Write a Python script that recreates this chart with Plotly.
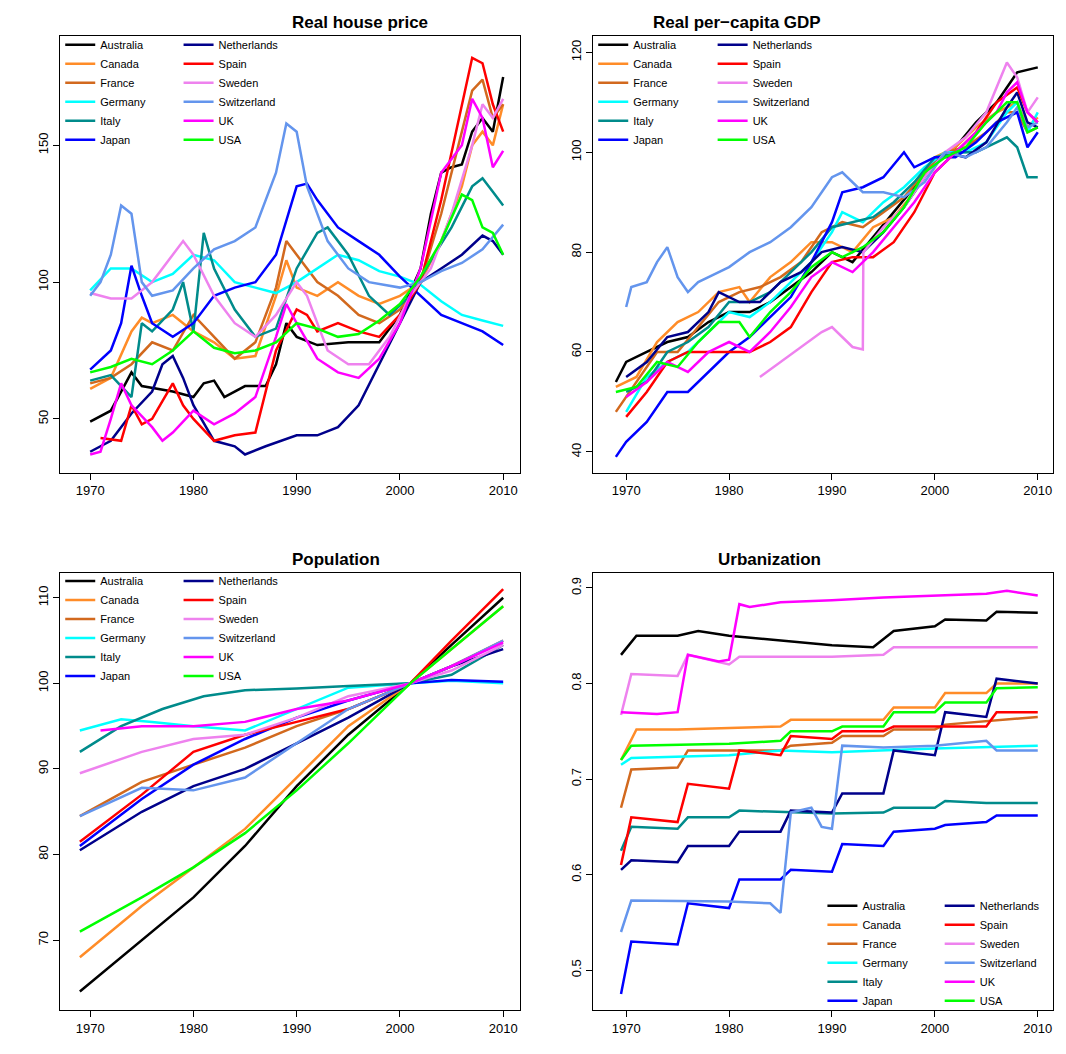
import plotly.graph_objects as go

countries = ["Australia", "Canada", "France", "Germany", "Italy", "Japan",
             "Netherlands", "Spain", "Sweden", "Switzerland", "UK", "USA"]
colors = {"Australia": "#000000", "Canada": "#FF8C28", "France": "#D2691E",
          "Germany": "#00FFFF", "Italy": "#008B8B", "Japan": "#0000FF",
          "Netherlands": "#00008B", "Spain": "#FF0000", "Sweden": "#EE82EE",
          "Switzerland": "#6495ED", "UK": "#FF00FF", "USA": "#00FF00"}

# Real house price
hp_years = {
    "Australia": [1970, 1972, 1973, 1974, 1975, 1978, 1980, 1981, 1982, 1983, 1985, 1987, 1988, 1989, 1990, 1992, 1995, 1998, 2000, 2002, 2003, 2004, 2005, 2006, 2007, 2008, 2009, 2010],
    "Canada": [1970, 1972, 1974, 1975, 1976, 1978, 1980, 1982, 1984, 1986, 1988, 1989, 1990, 1992, 1994, 1996, 1998, 2000, 2002, 2004, 2006, 2007, 2008, 2009, 2010],
    "France": [1970, 1972, 1974, 1976, 1978, 1980, 1982, 1984, 1986, 1988, 1989, 1990, 1992, 1994, 1996, 1998, 2000, 2002, 2004, 2006, 2007, 2008, 2009, 2010],
    "Germany": [1970, 1972, 1974, 1976, 1978, 1980, 1982, 1984, 1986, 1988, 1990, 1992, 1994, 1996, 1998, 2000, 2002, 2004, 2006, 2008, 2010],
    "Italy": [1970, 1972, 1974, 1975, 1976, 1978, 1979, 1980, 1981, 1982, 1984, 1986, 1988, 1990, 1992, 1993, 1995, 1997, 1999, 2001, 2003, 2005, 2007, 2008, 2009, 2010],
    "Japan": [1970, 1972, 1973, 1974, 1975, 1976, 1978, 1980, 1982, 1984, 1986, 1988, 1990, 1991, 1992, 1994, 1996, 1998, 2000, 2002, 2004, 2006, 2008, 2010],
    "Netherlands": [1970, 1972, 1974, 1976, 1977, 1978, 1979, 1980, 1982, 1984, 1985, 1987, 1990, 1992, 1994, 1996, 1998, 2000, 2002, 2004, 2006, 2008, 2009, 2010],
    "Spain": [1971, 1973, 1974, 1975, 1976, 1978, 1979, 1980, 1982, 1984, 1986, 1987, 1988, 1990, 1991, 1992, 1994, 1996, 1998, 2000, 2002, 2004, 2006, 2007, 2008, 2009, 2010],
    "Sweden": [1970, 1972, 1974, 1976, 1978, 1979, 1980, 1982, 1984, 1986, 1988, 1990, 1991, 1993, 1995, 1997, 1999, 2001, 2003, 2005, 2007, 2008, 2009, 2010],
    "Switzerland": [1970, 1971, 1972, 1973, 1974, 1975, 1976, 1978, 1980, 1982, 1984, 1986, 1988, 1989, 1990, 1991, 1993, 1995, 1997, 2000, 2002, 2004, 2006, 2008, 2010],
    "UK": [1970, 1971, 1972, 1973, 1974, 1976, 1977, 1978, 1980, 1982, 1984, 1986, 1988, 1989, 1990, 1992, 1994, 1996, 1998, 2000, 2002, 2004, 2006, 2007, 2008, 2009, 2010],
    "USA": [1970, 1972, 1974, 1976, 1978, 1980, 1982, 1984, 1986, 1988, 1990, 1992, 1994, 1996, 1998, 2000, 2002, 2004, 2006, 2007, 2008, 2009, 2010],
}
hp_vals = {
    "Australia": [49, 53, 60, 67, 62, 60, 58, 63, 64, 58, 62, 62, 70, 85, 80, 77, 78, 78, 88, 105, 125, 140, 142, 143, 155, 160, 155, 175],
    "Canada": [61, 65, 82, 87, 85, 88, 82, 78, 72, 73, 95, 108, 98, 95, 100, 95, 92, 95, 100, 115, 135, 150, 155, 150, 165],
    "France": [63, 65, 70, 78, 75, 88, 80, 72, 78, 98, 115, 110, 100, 95, 88, 85, 90, 100, 125, 155, 170, 174, 160, 165],
    "Germany": [97, 105, 105, 100, 103, 110, 108, 100, 98, 96, 100, 105, 110, 108, 104, 102, 99, 93, 88, 86, 84],
    "Italy": [64, 66, 58, 85, 82, 90, 100, 82, 118, 105, 90, 80, 83, 105, 118, 120, 110, 95, 88, 95, 108, 120, 135, 138, 133, 128],
    "Japan": [68, 75, 85, 106, 95, 85, 80, 85, 95, 98, 100, 110, 135, 136, 130, 120, 115, 110, 102, 95, 88, 85, 82, 77],
    "Netherlands": [38, 42, 52, 60, 70, 73, 65, 55, 42, 40, 37, 40, 44, 44, 47, 55, 70, 85, 100, 105, 110, 117, 115, 110],
    "Spain": [43, 42, 55, 48, 50, 63, 55, 50, 42, 44, 45, 60, 75, 90, 88, 82, 85, 82, 80, 88, 100, 130, 165, 182, 180, 165, 155],
    "Sweden": [96, 94, 94, 100, 110, 115, 110, 95, 85, 80, 88, 100, 95, 75, 70, 70, 80, 95, 105, 125, 150, 165, 160, 167],
    "Switzerland": [95, 100, 110, 128, 125, 100, 95, 97, 105, 112, 115, 120, 140, 158, 155, 135, 115, 105, 100, 98, 100, 104, 107, 112, 121],
    "UK": [37, 38, 50, 63, 55, 47, 42, 45, 53, 48, 52, 58, 80, 92, 85, 72, 67, 65, 72, 85, 105, 140, 150, 167, 160, 142, 148],
    "USA": [67, 69, 72, 70, 75, 82, 76, 74, 75, 78, 85, 83, 80, 81, 86, 92, 102, 115, 132, 130, 120, 118, 110],
}

# Real per-capita GDP
gdp_years = {
    "Australia": [1969, 1970, 1972, 1974, 1976, 1978, 1980, 1982, 1984, 1986, 1988, 1990, 1992, 1994, 1996, 1998, 2000, 2002, 2004, 2006, 2008, 2010],
    "Canada": [1969, 1971, 1973, 1975, 1977, 1979, 1981, 1982, 1984, 1986, 1988, 1990, 1992, 1994, 1996, 1998, 2000, 2002, 2004, 2006, 2008, 2009, 2010],
    "France": [1969, 1971, 1973, 1975, 1977, 1979, 1981, 1983, 1985, 1987, 1989, 1991, 1993, 1995, 1997, 1999, 2001, 2003, 2005, 2007, 2008, 2009, 2010],
    "Germany": [1970, 1972, 1974, 1976, 1978, 1980, 1982, 1984, 1986, 1988, 1990, 1991, 1993, 1995, 1997, 1999, 2001, 2003, 2005, 2007, 2008, 2009, 2010],
    "Italy": [1970, 1972, 1974, 1976, 1978, 1980, 1982, 1984, 1986, 1988, 1990, 1992, 1994, 1996, 1998, 2000, 2002, 2004, 2006, 2007, 2008, 2009, 2010],
    "Japan": [1969, 1970, 1972, 1974, 1976, 1978, 1980, 1982, 1984, 1986, 1988, 1990, 1991, 1993, 1995, 1997, 1998, 2000, 2002, 2004, 2006, 2008, 2009, 2010],
    "Netherlands": [1970, 1972, 1974, 1976, 1978, 1979, 1981, 1983, 1985, 1987, 1989, 1991, 1993, 1995, 1997, 1999, 2001, 2003, 2005, 2007, 2008, 2009, 2010],
    "Spain": [1970, 1972, 1974, 1976, 1978, 1980, 1982, 1984, 1986, 1988, 1990, 1992, 1994, 1996, 1998, 2000, 2002, 2004, 2006, 2008, 2009, 2010],
    "Sweden": [1983, 1985, 1987, 1989, 1990, 1991, 1992, 1993, 1993.05, 1995, 1997, 1999, 2001, 2003, 2005, 2007, 2008, 2009, 2010],
    "Switzerland": [1970, 1970.5, 1972, 1973, 1974, 1975, 1976, 1977, 1978, 1980, 1982, 1984, 1986, 1988, 1990, 1991, 1993, 1995, 1997, 1999, 2001, 2003, 2005, 2007, 2008, 2009, 2010],
    "UK": [1970, 1972, 1974, 1976, 1978, 1980, 1982, 1984, 1986, 1988, 1990, 1992, 1994, 1996, 1998, 2000, 2002, 2004, 2006, 2007, 2008, 2009, 2010],
    "USA": [1969, 1971, 1973, 1975, 1977, 1979, 1981, 1982, 1984, 1986, 1988, 1990, 1991, 1993, 1995, 1997, 1999, 2001, 2003, 2005, 2007, 2008, 2009, 2010],
}
gdp_vals = {
    "Australia": [54, 58, 60, 62, 63, 66, 68, 68, 70, 73, 76, 80, 78, 83, 88, 93, 98, 101, 106, 110, 116, 117],
    "Canada": [53, 55, 62, 66, 68, 72, 73, 70, 75, 78, 82, 82, 80, 85, 87, 92, 99, 101, 105, 108, 110, 105, 107],
    "France": [48, 54, 60, 60, 65, 70, 72, 73, 75, 78, 84, 86, 85, 88, 91, 96, 100, 101, 104, 108, 108, 104, 105],
    "Germany": [48, 55, 58, 60, 64, 68, 67, 70, 74, 78, 84, 88, 86, 90, 93, 97, 100, 100, 102, 108, 110, 104, 108],
    "Italy": [52, 54, 60, 62, 65, 70, 70, 72, 76, 80, 85, 86, 87, 90, 94, 99, 100, 100, 102, 103, 101, 95, 95],
    "Japan": [39, 42, 46, 52, 52, 56, 60, 63, 67, 71, 78, 86, 92, 93, 95, 100, 97, 99, 99, 102, 106, 108, 101, 104],
    "Netherlands": [55, 58, 63, 64, 68, 72, 70, 70, 74, 76, 80, 81, 80, 84, 89, 95, 100, 99, 102, 109, 112, 106, 105],
    "Spain": [47, 52, 58, 60, 60, 60, 60, 62, 65, 72, 78, 79, 79, 82, 88, 96, 100, 104, 110, 113, 108, 106],
    "Sweden": [55, 58, 61, 64, 65, 63, 61, 60.5, 80, 85, 89, 95, 100, 103, 108, 118, 115, 108, 111],
    "Switzerland": [69, 73, 74, 78, 81, 75, 72, 74, 75, 77, 80, 82, 85, 89, 95, 96, 92, 92, 91, 94, 100, 99, 101, 106, 109, 105, 106],
    "UK": [51, 54, 58, 56, 60, 62, 60, 64, 69, 75, 78, 76, 80, 85, 90, 96, 100, 104, 108, 112, 114, 108, 106],
    "USA": [52, 53, 58, 57, 62, 66, 66, 63, 68, 72, 77, 80, 79, 81, 84, 89, 96, 99, 101, 106, 110, 110, 104, 105],
}

# Population (index)
pop_years = {
    "Australia": [1969, 1975, 1980, 1985, 1990, 1995, 2001, 2005, 2010],
    "Canada": [1969, 1975, 1980, 1985, 1990, 1995, 2001, 2005, 2010],
    "France": [1969, 1975, 1980, 1985, 1990, 1995, 2001, 2005, 2010],
    "Germany": [1969, 1973, 1976, 1980, 1985, 1990, 1995, 2001, 2005, 2010],
    "Italy": [1969, 1973, 1977, 1981, 1985, 1990, 1995, 2001, 2005, 2010],
    "Japan": [1969, 1975, 1980, 1985, 1990, 1995, 2001, 2005, 2010],
    "Netherlands": [1969, 1975, 1980, 1985, 1990, 1995, 2001, 2005, 2010],
    "Spain": [1969, 1975, 1980, 1985, 1990, 1995, 2001, 2005, 2010],
    "Sweden": [1969, 1975, 1980, 1985, 1990, 1995, 2001, 2005, 2010],
    "Switzerland": [1969, 1975, 1980, 1985, 1990, 1995, 2001, 2005, 2010],
    "UK": [1971, 1975, 1980, 1985, 1990, 1995, 2001, 2005, 2010],
    "USA": [1969, 1975, 1980, 1985, 1990, 1995, 2001, 2005, 2010],
}
pop_vals = {
    "Australia": [64, 70, 75, 81, 88, 94, 100, 104.5, 110],
    "Canada": [68, 74, 78.5, 83, 89, 95, 100, 104, 109],
    "France": [84.5, 88.5, 90.5, 92.5, 95, 97, 100, 102, 105],
    "Germany": [94.5, 95.8, 95.5, 95, 94.5, 97, 99.5, 100, 100.3, 100],
    "Italy": [92, 95, 97, 98.5, 99.2, 99.4, 99.7, 100, 101, 104.5],
    "Japan": [81, 86.5, 90.5, 93.5, 96, 98, 100, 100.4, 100.2],
    "Netherlands": [80.5, 85, 88, 90, 93, 96, 100, 102, 104],
    "Spain": [81.5, 87, 92, 94, 95.5, 97, 100, 105, 111],
    "Sweden": [89.5, 92, 93.5, 94, 96, 98.5, 100, 101.5, 104.5],
    "Switzerland": [84.5, 87.8, 87.5, 89, 93, 97, 100, 102, 105],
    "UK": [94.5, 95, 95, 95.5, 97, 98, 100, 102, 104.8],
    "USA": [71, 75, 78.5, 82.5, 87.5, 93, 100, 104, 109],
}

# Urbanization
urb_years = {
    "Australia": [1969.5, 1971, 1975, 1977, 1980, 1985, 1990, 1994, 1996, 2000, 2001, 2005, 2006, 2010],
    "Canada": [1969.5, 1971, 1975, 1985, 1986, 1995, 1996, 2000, 2001, 2005, 2006, 2010],
    "France": [1969.5, 1970.5, 1975, 1976, 1985, 1986, 1990, 1991, 1995, 1996, 2000, 2001, 2010],
    "Germany": [1969.5, 1970.5, 1980, 1985, 1990, 1995, 2000, 2010],
    "Italy": [1969.5, 1970.5, 1975, 1976, 1980, 1981, 1990, 1995, 1996, 2000, 2001, 2005, 2010],
    "Japan": [1969.5, 1970.5, 1975, 1976, 1980, 1981, 1985, 1986, 1990, 1991, 1995, 1996, 2000, 2001, 2005, 2006, 2010],
    "Netherlands": [1969.5, 1970.5, 1975, 1976, 1980, 1981, 1985, 1986, 1990, 1991, 1995, 1996, 2000, 2001, 2005, 2006, 2010],
    "Spain": [1969.5, 1970.5, 1975, 1976, 1980, 1981, 1985, 1986, 1990, 1991, 1995, 1996, 2005, 2006, 2010],
    "Sweden": [1969.5, 1970.5, 1975, 1976, 1980, 1981, 1990, 1995, 1996, 2010],
    "Switzerland": [1969.5, 1970.5, 1980, 1984, 1985, 1986, 1988, 1989, 1990, 1991, 1995, 2000, 2005, 2006, 2010],
    "UK": [1969.5, 1973, 1975, 1976, 1979, 1980, 1981, 1982, 1985, 1990, 1995, 2000, 2005, 2007, 2010],
    "USA": [1969.5, 1970.5, 1980, 1985, 1986, 1990, 1991, 1995, 1996, 2000, 2001, 2005, 2006, 2010],
}
urb_vals = {
    "Australia": [0.83, 0.85, 0.85, 0.855, 0.85, 0.845, 0.84, 0.838, 0.855, 0.86, 0.867, 0.866, 0.875, 0.874],
    "Canada": [0.72, 0.752, 0.752, 0.755, 0.762, 0.762, 0.775, 0.775, 0.79, 0.79, 0.8, 0.8],
    "France": [0.67, 0.71, 0.712, 0.73, 0.73, 0.735, 0.738, 0.745, 0.745, 0.752, 0.752, 0.757, 0.765],
    "Germany": [0.715, 0.722, 0.725, 0.73, 0.728, 0.73, 0.732, 0.735],
    "Italy": [0.625, 0.65, 0.648, 0.66, 0.66, 0.667, 0.664, 0.665, 0.67, 0.67, 0.677, 0.675, 0.675],
    "Japan": [0.475, 0.53, 0.527, 0.57, 0.565, 0.595, 0.595, 0.605, 0.603, 0.632, 0.63, 0.645, 0.648, 0.652, 0.655, 0.662, 0.662],
    "Netherlands": [0.605, 0.615, 0.613, 0.63, 0.63, 0.645, 0.645, 0.667, 0.665, 0.685, 0.685, 0.73, 0.725, 0.77, 0.765, 0.805, 0.8],
    "Spain": [0.61, 0.66, 0.655, 0.695, 0.69, 0.73, 0.725, 0.745, 0.742, 0.75, 0.75, 0.755, 0.755, 0.77, 0.77],
    "Sweden": [0.767, 0.81, 0.808, 0.83, 0.82, 0.828, 0.828, 0.83, 0.838, 0.838],
    "Switzerland": [0.54, 0.573, 0.572, 0.57, 0.56, 0.665, 0.67, 0.65, 0.648, 0.735, 0.733, 0.735, 0.74, 0.73, 0.73],
    "UK": [0.77, 0.768, 0.77, 0.83, 0.823, 0.825, 0.883, 0.88, 0.885, 0.887, 0.89, 0.892, 0.894, 0.897, 0.892],
    "USA": [0.72, 0.735, 0.737, 0.74, 0.75, 0.75, 0.755, 0.755, 0.77, 0.77, 0.78, 0.78, 0.795, 0.796],
}

panels = [
    ("Real house price", hp_years, hp_vals, [0.049, 0.480], [0.559, 0.973], [1967.1, 2011.6], [30.3, 189.8], [50, 100, 150], (0.049, 0.160, 0.979)),
    ("Real per\u2212capita GDP", gdp_years, gdp_vals, [0.549, 0.980], [0.559, 0.973], [1966.8, 2011.45], [35.8, 123.2], [40, 60, 80, 100, 120], (0.549, 0.661, 0.979)),
    ("Population", pop_years, pop_vals, [0.049, 0.480], [0.049, 0.464], [1967.1, 2011.6], [61.8, 112.9], [70, 80, 90, 100, 110], (0.049, 0.160, 0.470)),
    ("Urbanization", urb_years, urb_vals, [0.549, 0.980], [0.049, 0.464], [1966.8, 2011.45], [0.458, 0.9157], [0.5, 0.6, 0.7, 0.8, 0.9], (0.764, 0.874, 0.162)),
]

font = "Liberation Sans, Arial, sans-serif"
fig = go.Figure()
layout = dict(width=1066, height=1054, margin=dict(l=0, r=0, t=0, b=0),
              plot_bgcolor="white", paper_bgcolor="white", showlegend=True,
              font=dict(family=font, size=12, color="black"), annotations=[])

for i, (title, yrs, vals, xd, yd, xr, yr, yt, leg) in enumerate(panels):
    n = i + 1
    xa, ya = ("x", "y") if n == 1 else (f"x{n}", f"y{n}")
    for j, c in enumerate(countries):
        lg = f"legend{2 * i + 1 if j < 6 else 2 * i + 2}"
        if lg == "legend1":
            lg = "legend"
        fig.add_trace(go.Scatter(x=yrs[c], y=vals[c], mode="lines", name=c,
                                 line=dict(color=colors[c], width=2.5),
                                 xaxis=xa, yaxis=ya, legend=lg))
    axis_common = dict(showgrid=False, zeroline=False, showline=True, linecolor="black",
                       linewidth=1, mirror=True, ticks="outside", ticklen=6,
                       tickcolor="black", tickfont=dict(size=13))
    xkey = "xaxis" if n == 1 else f"xaxis{n}"
    ykey = "yaxis" if n == 1 else f"yaxis{n}"
    layout[xkey] = dict(domain=xd, range=xr, anchor=ya, tickvals=[1970, 1980, 1990, 2000, 2010], **axis_common)
    layout[ykey] = dict(domain=yd, range=yr, anchor=xa, tickvals=yt, tickangle=-90, **axis_common)
    layout["annotations"].append(dict(text=f"<b>{title}</b>", x=(xd[0] + xd[1]) / 2, y=yd[1],
                                      xref="paper", yref="paper", yanchor="bottom", yshift=2,
                                      showarrow=False, font=dict(size=17)))
    for k, lx in enumerate(leg[:2]):
        key = f"legend{2 * i + 1 + k}"
        if key == "legend1":
            key = "legend"
        layout[key] = dict(x=lx, y=leg[2], xanchor="left", yanchor="top", bgcolor="rgba(0,0,0,0)",
                           font=dict(size=11), tracegroupgap=0, itemwidth=30)

fig.update_layout(**layout)
fig.write_html("out.html")
